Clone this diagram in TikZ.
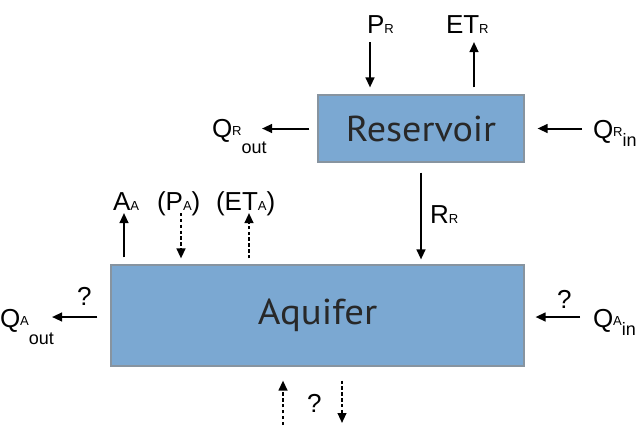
\documentclass[tikz,border=0pt]{standalone}
\usepackage{fontspec}
\setmainfont{Liberation Sans}
\newfontfamily\boxfont{PT Sans}
\usetikzlibrary{arrows.meta}
\definecolor{boxblue}{RGB}{123,168,210}
\definecolor{boxedge}{RGB}{135,148,160}
\definecolor{boxtext}{RGB}{40,40,40}
\newcommand{\bL}[1]{{\fontsize{19.5pt}{19.5pt}\selectfont #1}}
\newcommand{\sL}[1]{{\fontsize{9.8pt}{9.8pt}\selectfont #1}}
\newcommand{\tL}[1]{{\fontsize{13.5pt}{13.5pt}\selectfont #1}}
\begin{document}
\begin{tikzpicture}[x=0.75pt,y=-0.75pt,
  arr/.style={line width=1.5pt, -{Triangle[length=7.5pt,width=6.5pt]}},
  dsh/.style={arr, dash pattern=on 2.6pt off 1.8pt},
  lab/.style={anchor=base west, inner sep=0pt, outer sep=0pt},
  tank/.style={draw=boxedge, line width=0.8pt, fill=boxblue, text=boxtext,
    font=\boxfont\fontsize{27pt}{27pt}\selectfont}]
\useasboundingbox (0,0) rectangle (643,430);
% boxes
\node[tank, minimum width=154.5pt, minimum height=50.25pt] (res) at (421,128.5) {\scalebox{1.06}[1]{Reservoir}};
\node[tank, minimum width=309.75pt, minimum height=75.75pt] (aq) at (317.5,315.5) {\scalebox{1.08}[1]{Aquifer}};
% free ends
\coordinate (prt) at (370,42);
\coordinate (etrt) at (474,42);
\coordinate (qrot) at (262,128.5);
\coordinate (qris) at (582,128.5);
\coordinate (aat) at (124,213);
\coordinate (pas) at (181,213);
\coordinate (eat) at (249,213);
\coordinate (qaot) at (52,317);
\coordinate (qais) at (580,317);
\coordinate (upb) at (283,425);
\coordinate (dnt) at (342,423);
% reservoir arrows
\draw[arr, shorten >=5.25pt] (prt) -- (prt |- res.north);
\draw[arr, shorten <=5.25pt] (etrt |- res.north) -- (etrt);
\draw[arr, shorten <=6pt] (res.west) -- (qrot);
\draw[arr, shorten >=9.75pt] (qris) -- (res.east);
\draw[arr, shorten <=7.5pt, shorten >=3.75pt] (res.south) -- (res.south |- aq.north);
% aquifer arrows
\draw[arr, shorten <=5.25pt] (aat |- aq.north) -- (aat);
\draw[dsh, shorten >=4.5pt] (pas) -- (pas |- aq.north);
\draw[dsh, shorten <=4.5pt] (eat |- aq.north) -- (eat);
\draw[arr, shorten <=9.75pt] (qaot -| aq.west) -- (qaot);
\draw[arr, shorten >=8.25pt] (qais) -- (qais -| aq.east);
\draw[dsh, shorten >=10.5pt] (upb) -- (upb |- aq.south);
\draw[dsh, shorten <=10.5pt] (dnt |- aq.south) -- (dnt);
% labels
\node[lab] (lpr) at (367,33) {\bL{P}\sL{R}};
\node[lab] (letr) at (446,33) {\bL{ET}\sL{R}};
\node[lab] (lqro) at (212,137) {\bL{Q}\raisebox{0.8pt}{\sL{R}}\raisebox{-12.5pt}{\tL{out}}};
\node[lab] (lqri) at (593,138) {\bL{Q}\raisebox{0.8pt}{\sL{R}}\raisebox{-6.5pt}{\tL{in}}};
\node[lab] (lrr) at (430,223) {\bL{R}\sL{R}};
\node[lab] (laa) at (113,210) {\bL{A}\sL{A}};
\node[lab] (lpa) at (157,210) {\bL{(P}\sL{A}\bL{)}};
\node[lab] (leta) at (216,210) {\bL{(ET}\sL{A}\bL{)}};
\node[lab] (qm1) at (77,305) {\bL{?}};
\node[lab] (lqao) at (0,327) {\bL{Q}\raisebox{1.2pt}{\sL{A}}\raisebox{-13pt}{\tL{out}}};
\node[lab] (qm2) at (557,308) {\bL{?}};
\node[lab] (lqai) at (593,327) {\bL{Q}\raisebox{1.2pt}{\sL{A}}\raisebox{-6.5pt}{\tL{in}}};
\node[lab] (qm3) at (307,412) {\bL{?}};
\end{tikzpicture}
\end{document}
